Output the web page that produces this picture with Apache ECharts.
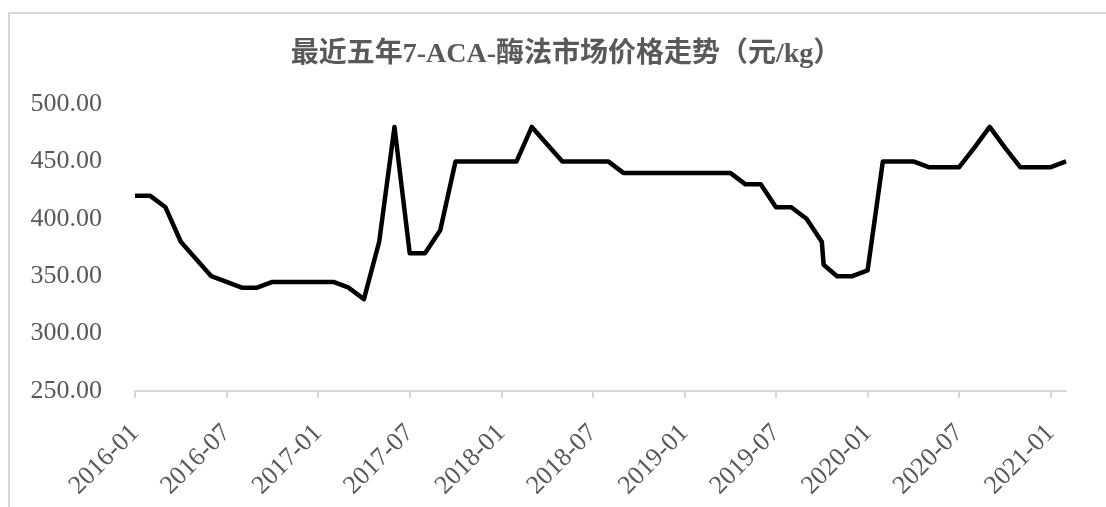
<!DOCTYPE html>
<html>
<head>
<meta charset="utf-8">
<title>最近五年7-ACA-酶法市场价格走势</title>
<script src="https://cdn.jsdelivr.net/npm/echarts@6/dist/echarts.min.js"></script>
<style>
  html, body { margin: 0; padding: 0; background: #fff; }
  #main { width: 1106px; height: 507px; }
</style>
</head>
<body>
<div id="main"></div>
<script>
// 月份 2016-01 ~ 2021-02
var months = [];
for (let y = 2016; y <= 2021; y++) {
  for (let m = 1; m <= 12; m++) {
    if (y === 2021 && m > 2) break;
    months.push(y + '-' + (m < 10 ? '0' + m : m));
  }
}

// 价格（元/kg）
var prices = [
  420, 420, 410, 380, 365, 350, 345, 340, 340, 345, 345, 345, // 2016
  345, 345, 340, 330, 380, 480, 370, 370, 390, 450, 450, 450, // 2017
  450, 450, 480, 465, 450, 450, 450, 450, 440, 440, 440, 440, // 2018
  440, 440, 440, 440, 430, 430, 410, 410, 400, 380, 350, 350, // 2019
  355, 450, 450, 450, 445, 445, 445, 462, 480, 462, 445, 445, // 2020
  445, 450                                                    // 2021
];

// 2019-10 月内急跌的中间点
var midMonthPoint = { month: '2019-10', value: 360 };

var yTicks = [250, 300, 350, 400, 450, 500];
var labelMonths = ['2016-01', '2016-07', '2017-01', '2017-07', '2018-01', '2018-07',
  '2019-01', '2019-07', '2020-01', '2020-07', '2021-01'];

var seriesData = [];
for (let i in months) {
  let idx = Number(i);
  seriesData.push([idx, prices[idx]]);
  if (months[idx] === midMonthPoint.month) {
    seriesData.push([idx + 0.12, midMonthPoint.value]);
  }
}
var labelIdx = labelMonths.map(function (m) { return months.indexOf(m); });

var chart = echarts.init(document.getElementById('main'), null, { renderer: 'canvas' });
var textColor = '#595959';
var option = {
  backgroundColor: '#fff',
  animation: false,
  title: {
    text: '最近五年7-ACA-酶法市场价格走势（元/kg）',
    left: 561,
    top: 36,
    textAlign: 'center',
    textStyle: {
      fontFamily: '"Liberation Serif", "Noto Sans CJK SC", serif',
      fontSize: 28,
      fontWeight: 'bold',
      color: textColor
    }
  },
  graphic: [{
    type: 'rect',
    shape: { x: 9, y: 13, width: 1200, height: 600 },
    style: { fill: 'none', stroke: '#d9d9d9', lineWidth: 2 },
    silent: true
  }],
  grid: {
    left: 135,
    right: 40,
    top: 104,
    bottom: 116
  },
  xAxis: {
    type: 'value',
    min: 0,
    max: months.length - 1,
    splitLine: { show: false },
    axisLine: { show: true, lineStyle: { color: '#d9d9d9', width: 2 } },
    axisTick: {
      show: true,
      customValues: labelIdx,
      length: 7,
      lineStyle: { color: '#d9d9d9', width: 2 }
    },
    axisLabel: {
      customValues: labelIdx,
      rotate: 45,
      margin: 38,
      fontFamily: '"Liberation Serif", serif',
      fontSize: 26,
      color: textColor,
      formatter: function (v) { return months[Math.round(v)]; }
    }
  },
  yAxis: {
    type: 'value',
    min: yTicks[0],
    max: yTicks[yTicks.length - 1],
    interval: 50,
    splitLine: { show: false },
    axisLine: { show: false },
    axisTick: { show: false },
    axisLabel: {
      margin: 33,
      fontFamily: '"Liberation Serif", serif',
      fontSize: 26,
      color: textColor,
      formatter: function (v) { return v.toFixed(2); }
    }
  },
  series: [{
    type: 'line',
    data: seriesData,
    showSymbol: false,
    lineStyle: { color: '#000', width: 4.5, join: 'round' },
    itemStyle: { color: '#000' }
  }]
};
chart.setOption(option);
</script>
</body>
</html>
